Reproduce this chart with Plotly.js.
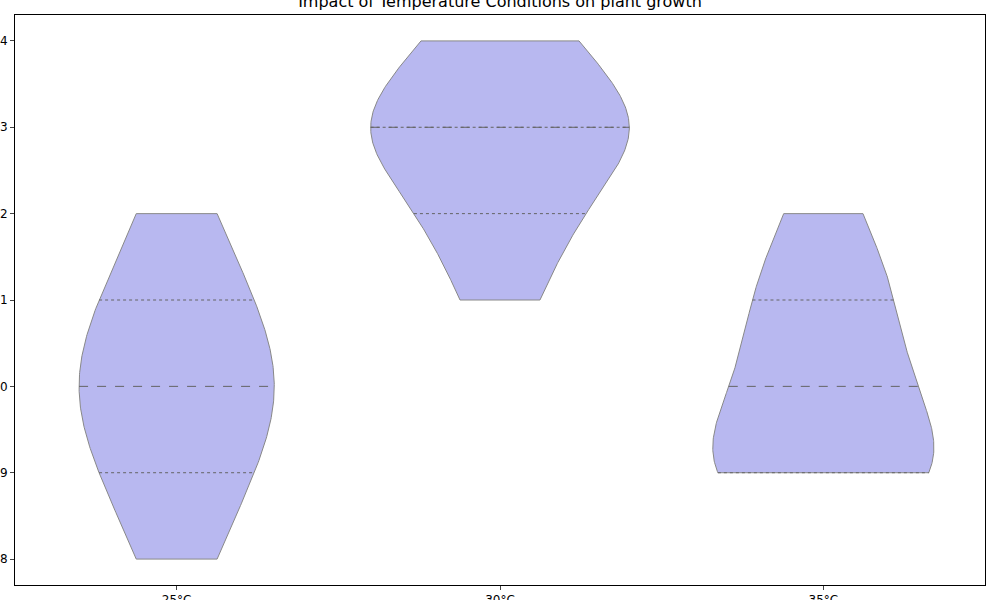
<!DOCTYPE html>
<html>
<head>
<script src="https://cdn.plot.ly/plotly-3.0.1.min.js"></script>
<style>body{margin:0}</style>
</head>
<body>
<div id="chart" style="width:1000px;height:600px"></div>
<script>
// plant growth per temperature condition
const categories = ['25°C', '30°C', '35°C'];
const growth = [
  [8, 9, 9, 10, 10, 10, 11, 11, 12],
  [11, 12, 12, 13, 13, 13, 13, 14, 14],
  [9, 9, 9, 9, 10, 10, 11, 11, 12]
];

function mean(a) { return a.reduce((s, v) => s + v, 0) / a.length; }
function std(a) {
  let m = mean(a);
  return Math.sqrt(a.reduce((s, v) => s + (v - m) * (v - m), 0) / (a.length - 1));
}
function quantile(a, q) {
  let s = a.slice().sort((x, y) => x - y);
  let i = q * (s.length - 1), lo = Math.floor(i);
  return s[lo] + (s[Math.min(lo + 1, s.length - 1)] - s[lo]) * (i - lo);
}
// gaussian kde, scott bandwidth (like seaborn)
function kde(a, x) {
  let bw = std(a) * Math.pow(a.length, -0.2);
  let sum = 0;
  for (let v of a) sum += Math.exp(-0.5 * Math.pow((x - v) / bw, 2));
  return sum / (a.length * bw * Math.sqrt(2 * Math.PI));
}

let curves = growth.map(a => {
  let lo = Math.min(...a), hi = Math.max(...a);
  let ys = [], ds = [];
  for (let k = 0; k <= 200; k++) {
    let y = lo + (hi - lo) * k / 200;
    ys.push(y);
    ds.push(kde(a, y));
  }
  return {ys: ys, ds: ds};
});
let maxD = Math.max(...curves.map(c => Math.max(...c.ds)));
let half = 0.4;

let data = [];
curves.forEach((c, i) => {
  let xs = [], ys = [];
  c.ys.forEach((y, k) => { xs.push(i + half * c.ds[k] / maxD); ys.push(y); });
  for (let k = c.ys.length - 1; k >= 0; k--) { xs.push(i - half * c.ds[k] / maxD); ys.push(c.ys[k]); }
  xs.push(xs[0]); ys.push(ys[0]);
  data.push({
    x: xs, y: ys, mode: 'lines', fill: 'toself',
    fillcolor: 'rgb(184,184,240)', line: {color: 'rgb(136,136,136)', width: 1},
    hoverinfo: 'skip', showlegend: false
  });
  [0.25, 0.5, 0.75].forEach(q => {
    let v = quantile(growth[i], q);
    let w = half * kde(growth[i], v) / maxD;
    data.push({
      x: [i - w, i + w], y: [v, v], mode: 'lines',
      line: {color: 'rgb(100,100,100)', width: 1, dash: q === 0.5 ? 'dash' : 'dot'},
      hoverinfo: 'skip', showlegend: false
    });
  });
});

let layout = {
  width: 1000, height: 600,
  margin: {l: 15, r: 15, t: 15, b: 15},
  paper_bgcolor: 'white', plot_bgcolor: 'white',
  font: {family: 'DejaVu Sans', size: 12, color: 'black'},
  title: {text: 'Impact of Temperature Conditions on plant growth', y: 0.997, yanchor: 'middle', font: {size: 16}},
  xaxis: {
    range: [-0.5, 2.5], tickvals: [0, 1, 2], ticktext: categories,
    showgrid: false, zeroline: false, showline: true, mirror: true, linecolor: 'black',
    ticks: 'outside', ticklen: 4, automargin: false
  },
  yaxis: {
    range: [7.7, 14.3], dtick: 1,
    showgrid: false, zeroline: false, showline: true, mirror: true, linecolor: 'black',
    ticks: 'outside', ticklen: 4, automargin: false
  }
};
Plotly.newPlot('chart', data, layout, {displayModeBar: false});
</script>
</body>
</html>
